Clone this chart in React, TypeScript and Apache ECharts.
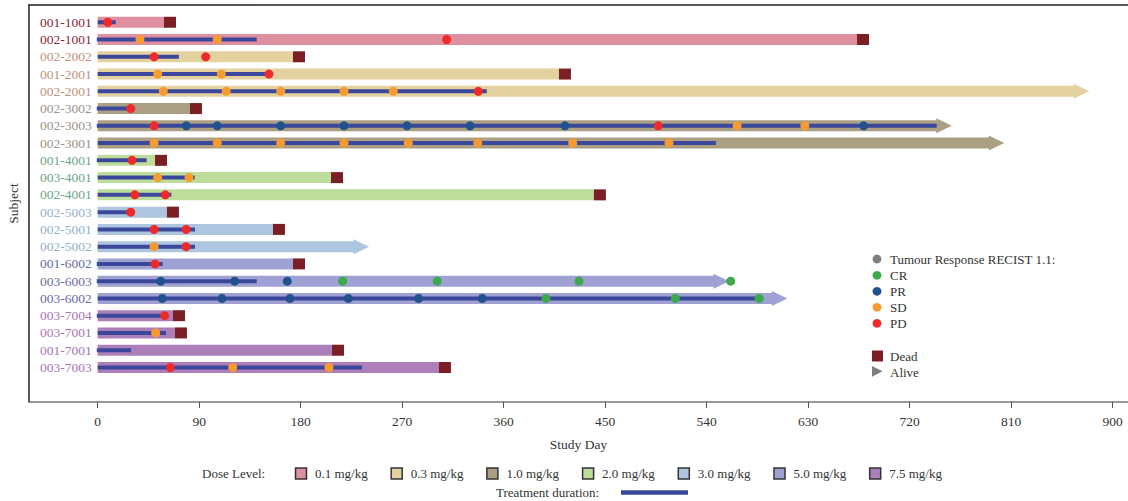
import React, { useEffect, useRef } from "react";
import * as echarts from "echarts";

const subjects = [
  "001-1001", "002-1001", "002-2002", "001-2001", "002-2001", "002-3002", "002-3003",
  "002-3001", "001-4001", "003-4001", "002-4001", "002-5003", "002-5001", "002-5002",
  "001-6002", "003-6003", "003-6002", "003-7004", "003-7001", "001-7001", "003-7003",
];
// dose level index per subject (0:0.1, 1:0.3, 2:1.0, 3:2.0, 4:3.0, 5:5.0, 6:7.5 mg/kg)
const doseIdx = [0, 0, 1, 1, 1, 2, 2, 2, 3, 3, 3, 4, 4, 4, 5, 5, 5, 6, 6, 6, 6];
// end of follow-up (study day)
const endDay = [58.8, 673.3, 173.2, 409, 866, 81.8, 744, 790.6, 50.8, 206.9, 440, 61.4, 155.4, 227.3, 173.2, 546.5, 598.2, 66.8, 68.5, 207.8, 302.6];
// 1 = alive (arrow), 0 = dead
const aliveFlag = [0, 0, 0, 0, 1, 0, 1, 1, 0, 0, 0, 0, 0, 1, 0, 1, 1, 0, 0, 0, 0];
const treatStart = [0, -0.8, 0, 0, 0, -0.8, -0.8, 0, -0.8, 0, 0, 0, 0, 0, -0.8, -0.8, 0, -0.8, 0, -0.8, 0];
const treatEnd = [16, 141, 72, 152.8, 345, 27.8, 744, 548.2, 43.4, 86, 65.3, 27.8, 86.3, 86.3, 57.6, 141, 590.2, 59.7, 60.6, 29.5, 234.4];

// tumour assessments per subject: [study day, response]
const assessments: [number, string][][] = [
  [[8.9, "PD"]],
  [[37.5, "SD"], [106, "SD"], [309.5, "PD"]],
  [[50, "PD"], [95.8, "PD"]],
  [[53.2, "SD"], [109.6, "SD"], [151.9, "PD"]],
  [[58.2, "SD"], [114, "SD"], [162.3, "SD"], [218.4, "SD"], [262.1, "SD"], [337.5, "PD"]],
  [[29.3, "PD"]],
  [[50, "PD"], [78.6, "PR"], [106, "PR"], [162.3, "PR"], [218.4, "PR"], [274.3, "PR"], [330.2, "PR"], [414.3, "PR"], [497, "PD"], [567, "SD"], [627, "SD"], [679.2, "PR"]],
  [[50, "SD"], [106, "SD"], [162.3, "SD"], [218.4, "SD"], [275.4, "SD"], [337, "SD"], [421.2, "SD"], [506.6, "SD"]],
  [[30.4, "PD"]],
  [[53.2, "SD"], [81, "SD"]],
  [[33, "PD"], [60, "PD"]],
  [[29.3, "PD"]],
  [[50, "PD"], [78.4, "PD"]],
  [[50, "SD"], [78.4, "PD"]],
  [[51, "PD"]],
  [[55.9, "PR"], [121.5, "PR"], [168.1, "PR"], [217.2, "CR"], [301.1, "CR"], [426.8, "CR"], [561.3, "CR"]],
  [[57.3, "PR"], [110.2, "PR"], [170.5, "PR"], [222.2, "PR"], [284.6, "PR"], [341, "PR"], [397.5, "CR"], [512.2, "CR"], [586.4, "CR"]],
  [[59.4, "PD"]],
  [[51.4, "SD"]],
  [],
  [[64.4, "PD"], [119.7, "SD"], [205.1, "SD"]],
];

const doseLabels = ["0.1 mg/kg", "0.3 mg/kg", "1.0 mg/kg", "2.0 mg/kg", "3.0 mg/kg", "5.0 mg/kg", "7.5 mg/kg"];
const responseTypes = ["CR", "PR", "SD", "PD"];
const xTicks = [0, 90, 180, 270, 360, 450, 540, 630, 720, 810, 900];

const doseColors = ["#DE8FA0", "#E4D1A0", "#AA9F82", "#BEDD9A", "#ADC5DF", "#9EA1D1", "#AD7FB8"];
const labelColors = ["#8A2A36", "#C0937A", "#9E9288", "#6AA58A", "#93B0CE", "#676C9F", "#A675B8"];
const respColors: Record<string, string> = { CR: "#3AAA4A", PR: "#22528E", SD: "#F79A30", PD: "#EE2A2A" };
const deadColor = "#7B1F24";
const treatColor = "#3A479B";
const FONT = "Liberation Serif";
const TXT = "#333333";
const LG_FONT = `13px "${FONT}"`;

export default function App() {
  const ref = useRef<HTMLDivElement>(null);
  useEffect(() => {
    if (!ref.current) return;
    const chart = echarts.init(ref.current, undefined, { renderer: "svg" });

    const barData = subjects.map((_, i) => [i, endDay[i], aliveFlag[i], doseIdx[i]]);
    const treatData = subjects.map((_, i) => [i, treatStart[i], treatEnd[i]]);

    const rich: Record<string, any> = {};
    doseLabels.forEach((_, d) => {
      rich["d" + d] = { color: labelColors[d], fontFamily: FONT, fontSize: 13.5 };
    });

    const scatterSeries = responseTypes.map((r) => ({
      type: "scatter",
      name: r,
      symbol: "circle",
      symbolSize: 9,
      z: 5,
      itemStyle: { color: respColors[r], opacity: 1 },
      data: assessments.flatMap((list, row) => list.filter((a) => a[1] === r).map((a) => [a[0], row])),
    }));

    const graphics: any[] = [];
    const lgX = 877;
    const lgItems: [string, string, number][] = [
      ["Tumour Response RECIST 1.1:", "#7F7F80", 259],
      ["CR", respColors.CR, 275.3],
      ["PR", respColors.PR, 291.3],
      ["SD", respColors.SD, 307.3],
      ["PD", respColors.PD, 323.3],
    ];
    lgItems.forEach(([t, c, y]) => {
      graphics.push({ type: "circle", shape: { cx: lgX, cy: y, r: 4.4 }, style: { fill: c } });
      graphics.push({ type: "text", x: 890, y, style: { text: t, fill: TXT, font: LG_FONT, verticalAlign: "middle" } });
    });
    graphics.push({ type: "rect", shape: { x: 872, y: 350.5, width: 11, height: 11 }, style: { fill: deadColor } });
    graphics.push({ type: "text", x: 890, y: 356, style: { text: "Dead", fill: TXT, font: LG_FONT, verticalAlign: "middle" } });
    graphics.push({ type: "polygon", shape: { points: [[872, 366], [882.5, 371.3], [872, 376.7]] }, style: { fill: "#7F7F80" } });
    graphics.push({ type: "text", x: 890, y: 372, style: { text: "Alive", fill: TXT, font: LG_FONT, verticalAlign: "middle" } });

    graphics.push({ type: "text", x: 202, y: 473.5, style: { text: "Dose Level:", fill: TXT, font: LG_FONT, verticalAlign: "middle" } });
    doseLabels.forEach((t, d) => {
      const bx = 295.5 + d * 95.7;
      graphics.push({ type: "rect", shape: { x: bx, y: 468, width: 11, height: 11 }, style: { fill: doseColors[d], stroke: "#333", lineWidth: 1.5 } });
      graphics.push({ type: "text", x: bx + 19.5, y: 473.5, style: { text: t, fill: TXT, font: LG_FONT, verticalAlign: "middle" } });
    });
    graphics.push({ type: "text", x: 496, y: 492, style: { text: "Treatment duration:", fill: TXT, font: LG_FONT, verticalAlign: "middle" } });
    graphics.push({ type: "line", shape: { x1: 621, y1: 492.5, x2: 688, y2: 492.5 }, style: { stroke: treatColor, lineWidth: 4.5 } });

    chart.setOption({
      animation: false,
      grid: { left: 29, right: 0, top: 5, bottom: 99, containLabel: false, outerBoundsMode: "none" },
      xAxis: [
        {
          type: "value",
          min: -60.9,
          max: 913.6,
          position: "bottom",
          name: "Study Day",
          nameLocation: "middle",
          nameGap: 35,
          nameTextStyle: { fontFamily: FONT, fontSize: 13.5, color: TXT },
          axisLine: { show: true, onZero: false, lineStyle: { color: "#777", width: 1.5 } },
          axisTick: { show: true, customValues: xTicks, length: 6, lineStyle: { color: "#555" } },
          axisLabel: { customValues: xTicks, fontFamily: FONT, fontSize: 13.5, color: TXT, margin: 12 },
          splitLine: { show: false },
        },
        {
          type: "value",
          min: -60.9,
          max: 913.6,
          position: "top",
          axisLine: { show: true, onZero: false, lineStyle: { color: "#222", width: 1.5 } },
          axisTick: { show: false },
          axisLabel: { show: false },
          splitLine: { show: false },
        },
      ],
      yAxis: {
        type: "value",
        inverse: true,
        min: -1,
        max: 22,
        interval: 1,
        name: "Subject",
        nameLocation: "middle",
        nameGap: 9,
        nameRotate: 90,
        nameTextStyle: { fontFamily: FONT, fontSize: 13.5, color: TXT },
        axisLine: { show: true, onZero: false, lineStyle: { color: "#222", width: 1.5 } },
        axisTick: { show: false },
        splitLine: { show: false },
        axisLabel: {
          inside: true,
          margin: 11,
          rich,
          formatter: (v: number) => {
            const i = Math.round(v);
            if (Math.abs(v - i) > 1e-6 || i < 0 || i >= subjects.length) return "";
            return `{d${doseIdx[i]}|${subjects[i]}}`;
          },
        },
      },
      series: [
        {
          type: "custom",
          name: "dose",
          z: 2,
          encode: { x: 1, y: 0 },
          data: barData,
          renderItem: (params: any, api: any) => {
            const row = api.value(0);
            const end = api.value(1);
            const alive = api.value(2);
            const d = api.value(3);
            const p0 = api.coord([0, row]);
            const p1 = api.coord([end, row]);
            const h = 11;
            const children: any[] = [
              { type: "rect", shape: { x: p0[0], y: p0[1] - h / 2, width: p1[0] - p0[0], height: h }, style: { fill: doseColors[d] } },
            ];
            if (alive) {
              children.push({
                type: "polygon",
                shape: { points: [[p1[0] - 0.5, p1[1] - 7.5], [p1[0] + 15, p1[1]], [p1[0] - 0.5, p1[1] + 7.5]] },
                style: { fill: doseColors[d] },
              });
            } else {
              children.push({ type: "rect", shape: { x: p1[0], y: p1[1] - h / 2, width: 12, height: h }, style: { fill: deadColor } });
            }
            return { type: "group", children };
          },
        },
        {
          type: "custom",
          name: "treatment",
          z: 3,
          encode: { x: [1, 2], y: 0 },
          data: treatData,
          renderItem: (params: any, api: any) => {
            const row = api.value(0);
            const a = api.coord([api.value(1), row]);
            const b = api.coord([api.value(2), row]);
            return { type: "rect", shape: { x: a[0], y: a[1] - 2, width: b[0] - a[0], height: 4 }, style: { fill: treatColor } };
          },
        },
        ...scatterSeries,
      ],
      graphic: graphics,
    });
    return () => chart.dispose();
  }, []);
  return <div ref={ref} style={{ position: "absolute", left: 0, top: 0, width: 1128, height: 501 }} />;
}
